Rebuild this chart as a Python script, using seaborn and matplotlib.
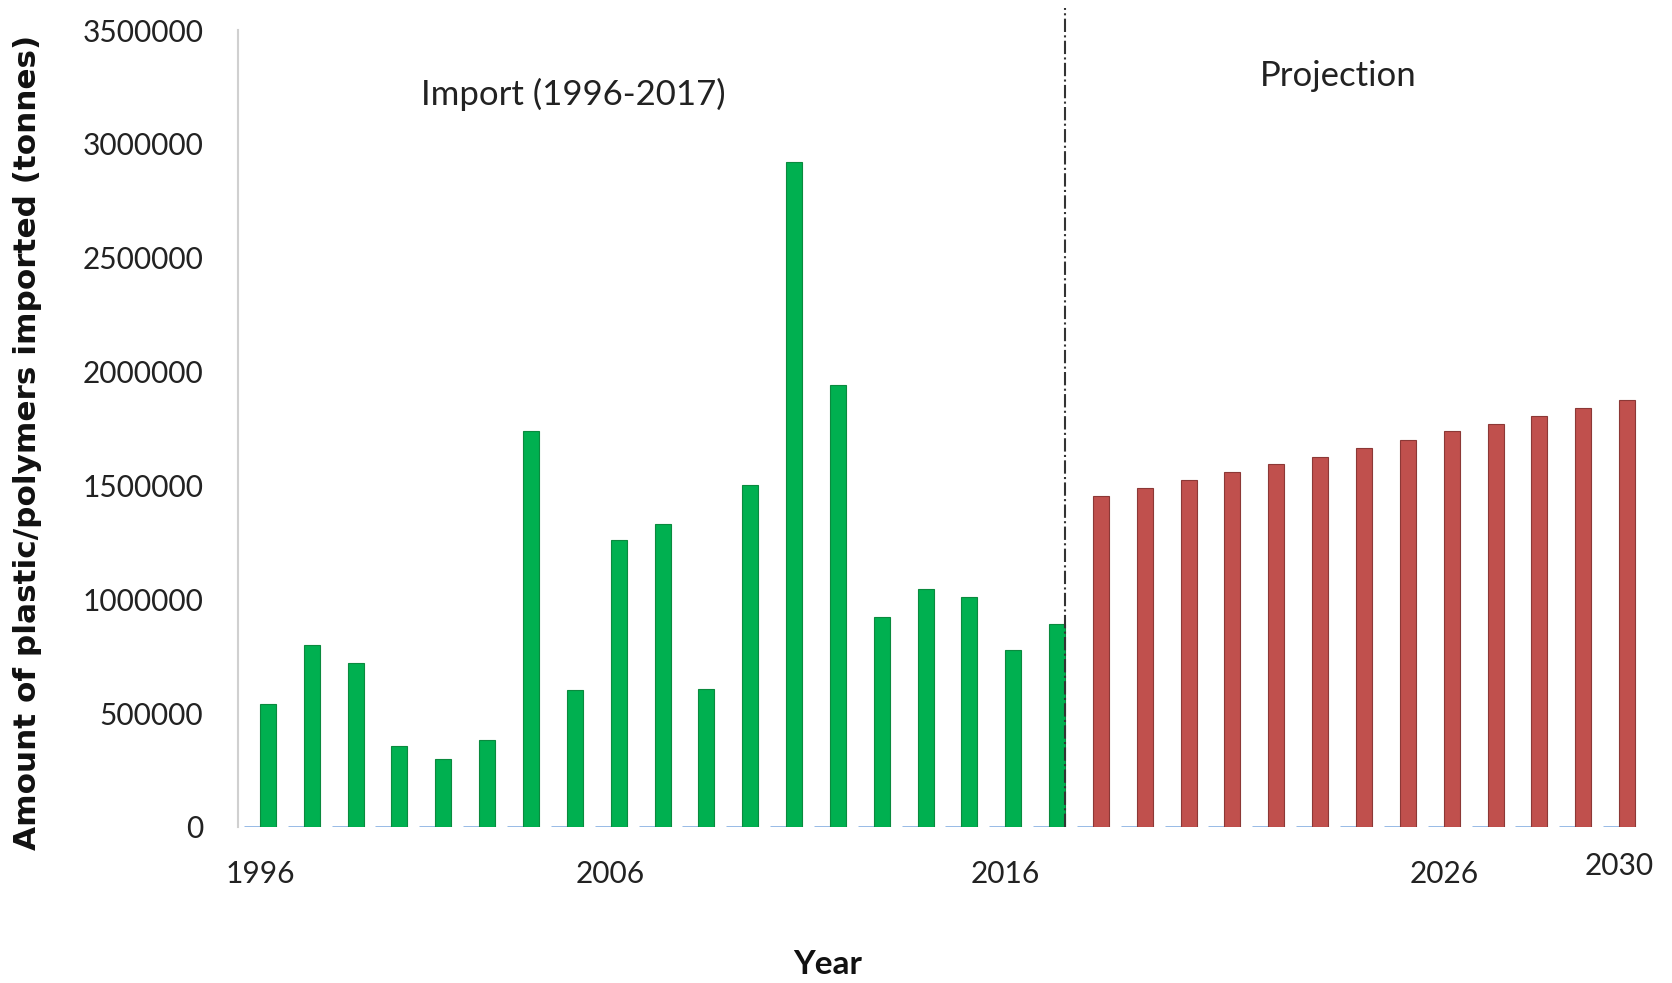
import numpy as np
import pandas as pd
import seaborn as sns
import matplotlib.pyplot as plt

# Imported amounts (tonnes), 1996-2017, one bar per slot as shown in the chart
import_values = [539000, 801000, 722000, 356000, 300000, 384000, 1738000, 600000,
                 1260000, 1331000, 604000, 1504000, 2919000, 1940000, 923000,
                 1045000, 1012000, 778000, 890000]
# Projected amounts (tonnes), 2018-2030
projection_values = [1455000, 1490000, 1522000, 1560000, 1592000, 1626000, 1665000,
                     1700000, 1737000, 1771000, 1805000, 1842000, 1876000]
# second (empty) series plotted in the original, giving the flat blue stubs
baseline_values = [0] * (len(import_values) + len(projection_values))

# x tick labels, only some slots are labelled
tick_slots = [0, 8, 17, 27, 31]
tick_labels = ['1996', '2006', '2016', '2026', '2030']
y_ticks = [0, 500000, 1000000, 1500000, 2000000, 2500000, 3000000, 3500000]

main_values = import_values + projection_values
n = len(main_values)
n_import = len(import_values)

df = pd.DataFrame({
    'slot': list(range(n)) * 2,
    'series': ['base'] * n + ['main'] * n,
    'value': baseline_values + main_values,
})

sns.set_style('white')
plt.rcParams['font.family'] = ['Lato', 'DejaVu Sans']

fig = plt.figure(figsize=(16.72, 9.83), dpi=100)
ax = fig.add_axes([238 / 1672, 1 - 827 / 983, 1403 / 1672, 797 / 983])

sns.barplot(data=df, x='slot', y='value', hue='series', hue_order=['base', 'main'],
            width=0.73, legend=False, ax=ax, errorbar=None)

# recolour: blue stubs for the empty series, green for imports, red for projection
for p in ax.containers[0]:
    p.set_facecolor('#8eb4e3')
    p.set_edgecolor('#8eb4e3')
    p.set_linewidth(2)
for i, p in enumerate(ax.containers[1]):
    if i < n_import:
        p.set_facecolor('#00b050')
        p.set_edgecolor('#0a8a3e')
    else:
        p.set_facecolor('#c0504d')
        p.set_edgecolor('#8c3836')
    p.set_linewidth(0.8)

ax.set_xlim(-0.5, n - 0.5)
ax.set_ylim(0, 3500000)
ax.set_yticks(y_ticks)
ax.set_yticklabels([str(v) for v in y_ticks])
ax.set_xticks(tick_slots)
ax.set_xticklabels(tick_labels)
ax.tick_params(axis='y', length=0, pad=25, labelsize=21.5, labelcolor='#222222')
ax.tick_params(axis='x', length=0, pad=24, labelsize=21.5, labelcolor='#222222')
ax.get_xticklabels()[-1].set_y(0.01)

for s in ['top', 'right', 'bottom']:
    ax.spines[s].set_visible(False)
ax.spines['left'].set_color('#d0d0d0')
ax.spines['left'].set_linewidth(1.5)

# divider between data and projection
split_x = n_import - 1 + 0.365
ax.axvline(split_x, ymin=0, ymax=1.027, color='#333333', linestyle='-.', linewidth=1.5,
           clip_on=False)

ax.text(7.15, 3215000, 'Import (1996-2017)', fontsize=25, ha='center', va='center',
        color='#222222')
ax.text(24.6, 3300000, 'Projection', fontsize=25, ha='center', va='center',
        color='#222222')

ax.set_xlabel('')
ax.set_ylabel('')
fig.text(28 / 1672, 1 - 442 / 983, 'Amount of plastic/polymers imported (tonnes)',
         rotation=90, ha='center', va='center', fontsize=22.4, fontweight='bold',
         family='DejaVu Sans', color='#111111')
fig.text(828 / 1672, 1 - 965 / 983, 'Year', ha='center', va='center', fontsize=24,
         fontweight='bold', color='#111111')

fig.savefig('out.png', dpi=100)
